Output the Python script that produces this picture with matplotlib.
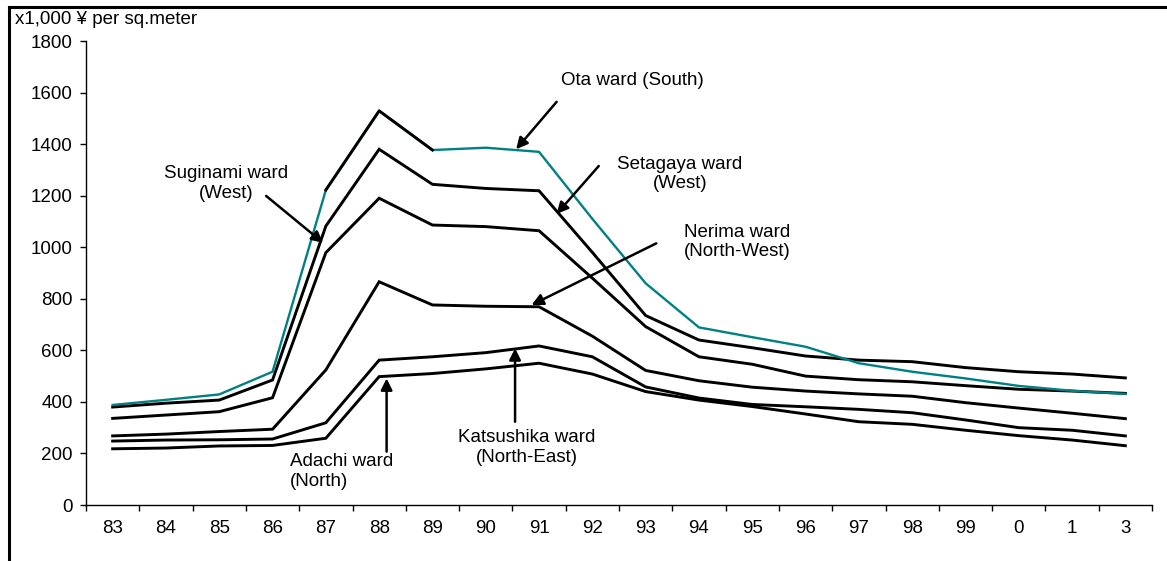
import numpy as np
import matplotlib
matplotlib.use('Agg')
import matplotlib.pyplot as plt
from matplotlib.lines import Line2D

plt.rcParams['font.family'] = ['Liberation Sans', 'DejaVu Sans']

# land prices, x1,000 yen per sq.meter
years = ['83', '84', '85', '86', '87', '88', '89', '90', '91', '92',
         '93', '94', '95', '96', '97', '98', '99', '0', '1', '3']
ota = [388, 408, 429, 517, 1222, 1529, 1377, 1386, 1370, 1110,
       860, 689, 651, 614, 550, 517, 491, 462, 443, 431]
setagaya = [380, 395, 407, 485, 1082, 1380, 1244, 1228, 1219, 980,
            735, 640, 610, 578, 562, 556, 533, 517, 508, 493]
suginami = [336, 349, 362, 416, 979, 1190, 1086, 1080, 1064, 880,
            692, 575, 546, 500, 486, 478, 463, 449, 442, 433]
nerima = [268, 275, 285, 294, 524, 866, 776, 771, 769, 655,
          522, 482, 457, 442, 431, 422, 397, 376, 356, 335]
katsushika = [248, 252, 253, 256, 319, 562, 575, 591, 617, 575,
              458, 415, 390, 381, 371, 358, 330, 300, 290, 268]
adachi = [218, 221, 229, 231, 259, 498, 510, 528, 550, 508,
          440, 407, 382, 353, 323, 313, 290, 269, 252, 230]

x = np.arange(len(years))

fig = plt.figure(figsize=(11.67, 5.61), dpi=100)
ax = fig.add_axes([86/1167, 1 - 505/561, (1152-86)/1167, (505-41)/561])

# black lines first, teal on top
for series in [setagaya, suginami, nerima, katsushika, adachi]:
    ax.plot(x, series, color='black', linewidth=2.1, solid_joinstyle='miter')
ax.plot(x, ota, color='#008080', linewidth=1.7, zorder=3)
# the 87-89 part of the top line is drawn black in the original
ax.plot(x[4:7], ota[4:7], color='black', linewidth=2.1, zorder=4)

fs = 13.5
ax.set_xlim(-0.5, len(years) - 0.5)
ax.set_ylim(0, 1800)
ax.set_yticks(range(0, 1801, 200))
ax.set_xticks(x)
ax.set_xticklabels(years)
ax.set_xticks(np.arange(-0.5, len(years), 1), minor=True)
ax.tick_params(axis='x', which='major', length=0, pad=11, labelsize=fs)
ax.tick_params(axis='x', which='minor', length=4, width=1, direction='out')
ax.tick_params(axis='y', length=4.5, width=1, pad=5, labelsize=fs)
for s in ['top', 'right']:
    ax.spines[s].set_visible(False)
for s in ['left', 'bottom']:
    ax.spines[s].set_linewidth(1)

fig.text(15/1167, 1 - 19/561, 'x1,000 \u00a5 per sq.meter', fontsize=fs,
         va='center', ha='left')

arrow = dict(arrowstyle='-|>', color='black', lw=1.8, mutation_scale=17,
             shrinkA=0, shrinkB=0)
ls = 1.22
ax.annotate('', xy=(7.57, 1380), xytext=(8.33, 1564), arrowprops=arrow)
ax.text(9.76, 1646, 'Ota ward (South)', fontsize=fs, ha='center', va='center')

ax.annotate('', xy=(8.33, 1129), xytext=(9.12, 1315), arrowprops=arrow)
ax.text(10.64, 1284, 'Setagaya ward\n(West)', fontsize=fs, ha='center',
        va='center', linespacing=ls)

ax.annotate('', xy=(7.86, 776), xytext=(10.2, 1015), arrowprops=arrow)
ax.text(11.72, 1020, 'Nerima ward\n(North-West)', fontsize=fs, ha='center',
        va='center', linespacing=ls)

ax.annotate('', xy=(3.95, 1017), xytext=(2.88, 1199), arrowprops=arrow)
ax.text(2.13, 1247, 'Suginami ward\n(West)', fontsize=fs, ha='center',
        va='center', linespacing=ls)

ax.annotate('', xy=(5.14, 491), xytext=(5.14, 207), arrowprops=arrow)
ax.text(3.33, 129, 'Adachi ward\n(North)', fontsize=fs, ha='left',
        va='center', linespacing=ls)

ax.annotate('', xy=(7.55, 608), xytext=(7.55, 323), arrowprops=arrow)
ax.text(7.77, 224, 'Katsushika ward\n(North-East)', fontsize=fs, ha='center',
        va='center', linespacing=ls)

# outer frame (top and left)
fig.add_artist(Line2D([9/1167, 1], [1 - 7/561, 1 - 7/561], color='black',
                      linewidth=2.2, transform=fig.transFigure))
fig.add_artist(Line2D([9/1167, 9/1167], [0, 1 - 7/561], color='black',
                      linewidth=2.2, transform=fig.transFigure))

fig.savefig('out.png', dpi=100)
